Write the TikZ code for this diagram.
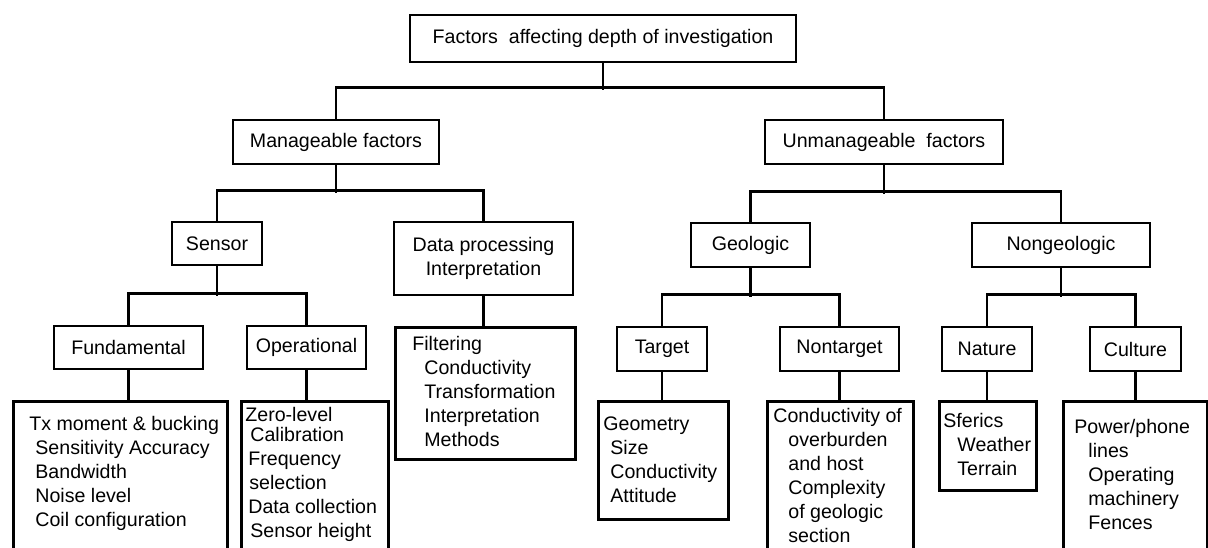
\documentclass[tikz,border=0pt]{standalone}
\usepackage{fontspec}
\setmainfont{Liberation Sans}
\usepackage{tikz}
\usetikzlibrary{calc}

\begin{document}
\begin{tikzpicture}[x=0.5pt,y=-0.5pt,
    box/.style={draw,line width=1.4pt,inner sep=0pt,align=center,font=\fontsize{9.8}{12}\selectfont},
    leaf/.style={draw,line width=1.4pt,inner sep=0pt,anchor=north west},
    items/.style={inner sep=0pt,anchor=north west,align=left,font=\fontsize{9.8}{12}\selectfont},
    link/.style={line width=1.3pt}]
            \useasboundingbox (0,0) rectangle (1208,547);
            % headings
            \node[box,minimum width=193pt,minimum height=23.5pt] (top) at (603,38.5) {Factors \ affecting depth of investigation};
            \node[box,minimum width=103pt,minimum height=22pt] (manage) at (336,142) {Manageable factors};
            \node[box,minimum width=119pt,minimum height=22pt] (unmanage) at (884,142) {Unmanageable \ factors};
            \node[box,minimum width=45pt,minimum height=21.5pt] (sensor) at (217,243.5) {Sensor};
            \node[box,minimum width=89.5pt,minimum height=36.5pt] (dataproc) at (483.5,258.5) {Data processing\\Interpretation};
            \node[box,minimum width=59.5pt,minimum height=22pt] (geologic) at (750.5,245) {Geologic};
            \node[box,minimum width=89pt,minimum height=22pt] (nongeo) at (1061,245) {Nongeologic};
            \node[box,minimum width=74.5pt,minimum height=21.5pt] (fund) at (128.5,347.5) {Fundamental};
            \node[box,minimum width=59.5pt,minimum height=21.5pt] (oper) at (306.5,347.5) {Operational};
            \node[box,minimum width=45pt,minimum height=22pt] (target) at (662,349) {Target};
            \node[box,minimum width=59.5pt,minimum height=22pt] (nontarget) at (839.5,349) {Nontarget};
            \node[box,minimum width=45pt,minimum height=22pt] (nature) at (987,349) {Nature};
            \node[box,minimum width=45.5pt,minimum height=22pt] (culture) at (1135.5,349) {Culture};
            % lists
            \node[leaf,minimum width=107pt,minimum height=74.5pt] (fundlist) at (12,400) {};
            \node[leaf,minimum width=73.5pt,minimum height=74.5pt] (operlist) at (240,400) {};
            \node[leaf,minimum width=90pt,minimum height=66pt] (proclist) at (394,326) {};
            \node[leaf,minimum width=65pt,minimum height=59pt] (targetlist) at (597,400) {};
            \node[leaf,minimum width=73pt,minimum height=74.5pt] (nontargetlist) at (766,400) {};
            \node[leaf,minimum width=48.5pt,minimum height=44.5pt] (naturelist) at (938,400) {};
            \node[leaf,minimum width=72pt,minimum height=74.5pt] (culturelist) at (1062,400) {};
            \node[items] (fundtext) at (29,416) {Tx moment \& bucking\\\hspace*{3pt}Sensitivity Accuracy\\\hspace*{3pt}Bandwidth\\\hspace*{3pt}Noise level\\\hspace*{3pt}Coil configuration};
            \node[items] (opertext) at (245,407) {Zero-level\\[-2pt]\hspace*{2.5pt}Calibration\\\hspace*{1.5pt}Frequency\\\hspace*{2pt}selection\\\hspace*{1.5pt}Data collection\\\hspace*{2.5pt}Sensor height};
            \node[items] (proctext) at (412,336) {Filtering\\\hspace*{6pt}Conductivity\\\hspace*{6pt}Transformation\\\hspace*{6pt}Interpretation\\\hspace*{6pt}Methods};
            \node[items] (targettext) at (603,416) {Geometry\\\hspace*{3.5pt}Size\\\hspace*{3.5pt}Conductivity\\\hspace*{3.5pt}Attitude};
            \node[items] (nontargettext) at (773,408) {Conductivity of\\\hspace*{7.5pt}overburden\\\hspace*{7.5pt}and host\\\hspace*{7.5pt}Complexity\\\hspace*{7.5pt}of geologic\\\hspace*{7.5pt}section};
            \node[items] (naturetext) at (943,413) {Sferics\\\hspace*{7pt}Weather\\\hspace*{7pt}Terrain};
            \node[items] (culturetext) at (1074,419) {Power/phone\\\hspace*{7pt}lines\\\hspace*{7pt}Operating\\\hspace*{7pt}machinery\\\hspace*{7pt}Fences};
            % connectors
            \draw[link](top.south)--++(0,27);
            \draw[link](manage.north)--++(0,-31)-|(unmanage.north);
            \draw[link](manage.south)--++(0,28);
            \draw[link](sensor.north)--++(0,-30)-|(dataproc.north);
            \draw[link](unmanage.south)--++(0,29);
            \draw[link](geologic.north)--++(0,-30)-|(nongeo.north);
            \draw[link](sensor.south)--++(0,30);
            \draw[link](fund.north)--++(0,-31)-|(oper.north);
            \draw[link](dataproc.south)--(dataproc.south|-proclist.north);
            \draw[link](geologic.south)--++(0,29);
            \draw[link](target.north)--++(0,-31)-|(nontarget.north);
            \draw[link](nongeo.south)--++(0,29);
            \draw[link](nature.north)--++(0,-31)-|(culture.north);
            \draw[link](fund.south)--(fund.south|-fundlist.north);
            \draw[link](oper.south)--(oper.south|-operlist.north);
            \draw[link](target.south)--(target.south|-targetlist.north);
            \draw[link](nontarget.south)--(nontarget.south|-nontargetlist.north);
            \draw[link](nature.south)--(nature.south|-naturelist.north);
            \draw[link](culture.south)--(culture.south|-culturelist.north);
        \end{tikzpicture}
\end{document}
